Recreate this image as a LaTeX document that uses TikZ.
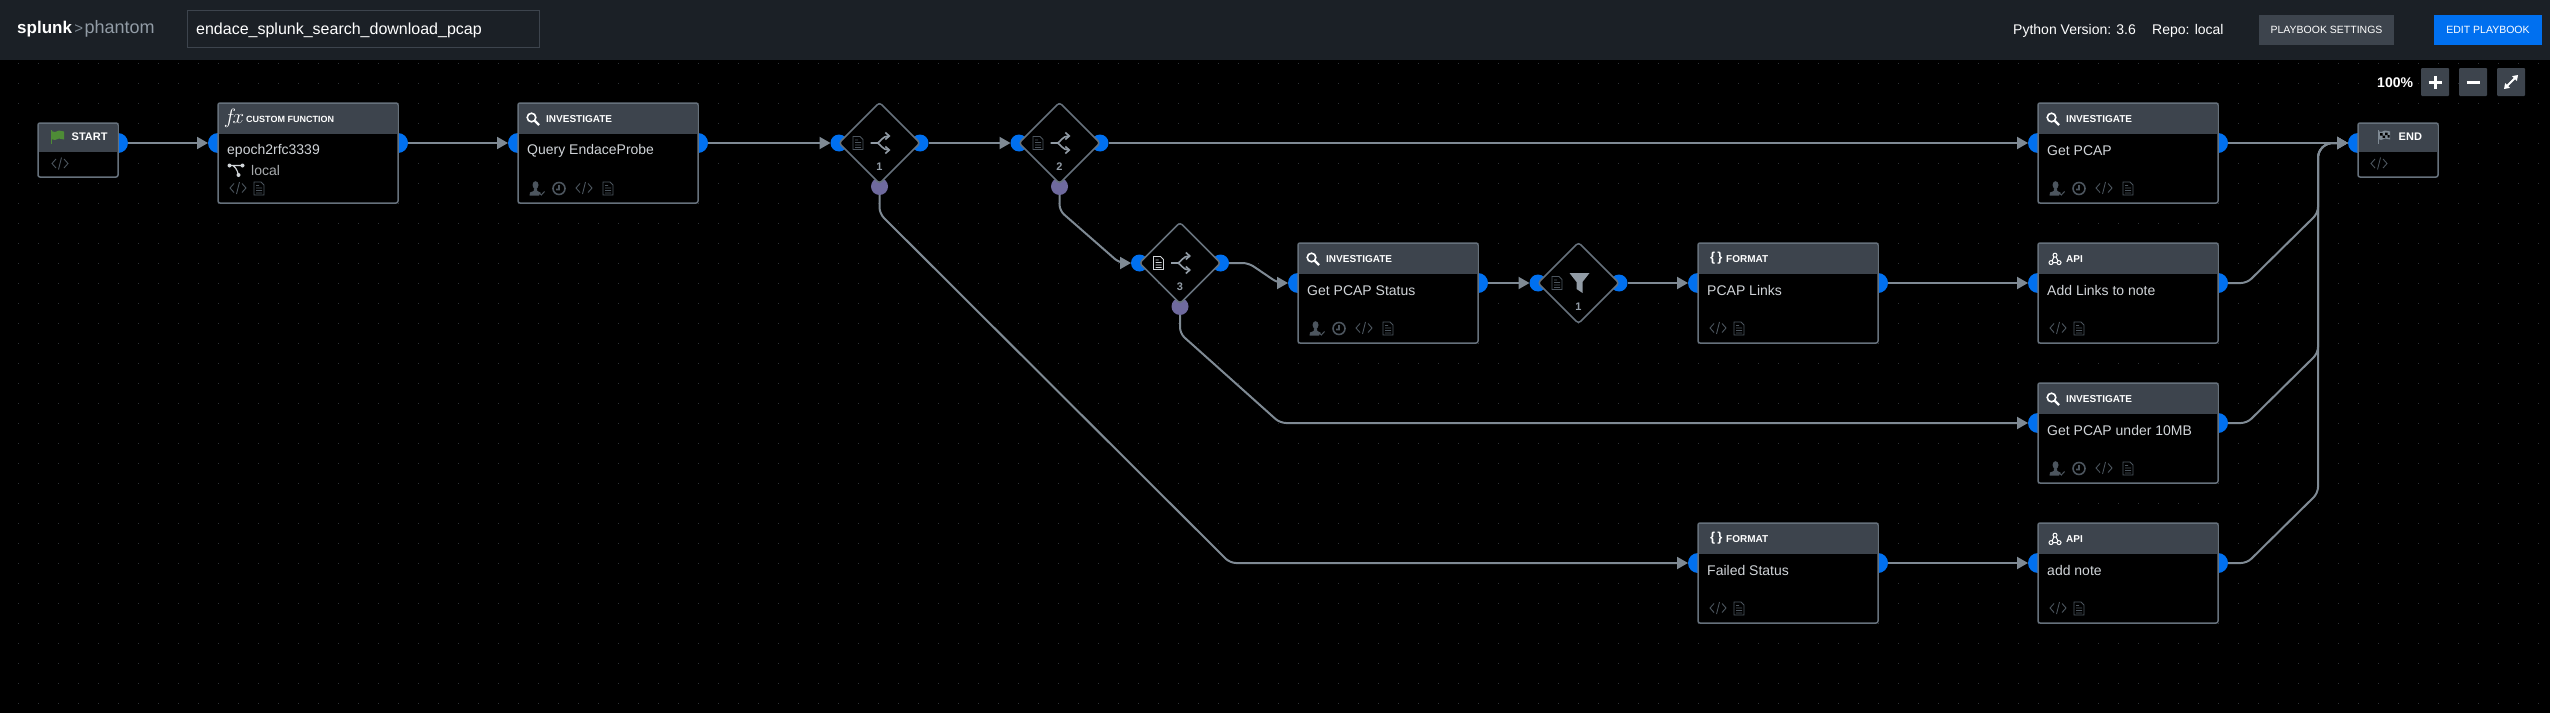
\documentclass[tikz,border=0pt]{standalone}
\usepackage{fontspec}
\setmainfont{Liberation Sans}
\usetikzlibrary{arrows.meta,positioning,shapes.geometric,backgrounds}

\definecolor{canvas}{HTML}{000000}
\definecolor{griddotc}{HTML}{2E3236}
\definecolor{topbarc}{HTML}{1B2026}
\definecolor{headc}{HTML}{3D444D}
\definecolor{edgec}{HTML}{66717C}
\definecolor{linkc}{HTML}{7F8A94}
\definecolor{portc}{HTML}{0070F0}
\definecolor{downc}{HTML}{6F6A9E}
\definecolor{iconc}{HTML}{4C555E}
\definecolor{brightc}{HTML}{929CA6}
\definecolor{titlec}{HTML}{D0D4D8}
\definecolor{flagc}{HTML}{4E8C36}

\tikzset{
  block/.style={draw=edgec, fill=black, line width=1.5pt, rounded corners=2pt, outer sep=0pt, inner sep=0pt, minimum width=180pt, minimum height=100pt},
  smallblock/.style={block, minimum width=80pt, minimum height=54pt},
  gate/.style={diamond, aspect=1, draw=edgec, fill=black, line width=1.5pt, rounded corners=3pt, outer sep=0pt, inner sep=0pt, minimum width=81pt, minimum height=81pt},
  port/.style={circle, fill=portc, inner sep=0pt, outer sep=0pt, minimum size=20pt},
  gateport/.style={port, minimum size=17pt},
  downport/.style={gateport, fill=downc},
  link/.style={draw=linkc, line width=2pt, -{Triangle[length=11pt,width=12pt]}},
  flowline/.style={link, rounded corners=6pt},
  griddot/.style={griddotc, line width=1.2pt, dash pattern=on 1.2pt off 18.8pt},
  headtext/.style={anchor=west, inner sep=0pt, text=white, font=\fontsize{10}{12}\selectfont\bfseries},
  bodytext/.style={anchor=west, inner sep=0pt, text=titlec, font=\fontsize{14}{16}\selectfont},
  bartext/.style={anchor=west, inner sep=0pt, text=white, font=\fontsize{14}{16}\selectfont},
  barbutton/.style={inner sep=0pt, minimum width=135pt, minimum height=30pt, fill=headc, text=white, font=\fontsize{10.5}{12}\selectfont},
  zoombutton/.style={inner sep=0pt, minimum width=28pt, minimum height=28pt, fill=headc, rounded corners=1pt},
  gatenum/.style={inner sep=0pt, text=brightc, font=\fontsize{11}{12}\selectfont\bfseries},
  docicon/.pic={\draw[line width=.9pt] (-5,-6.5) -- (2,-6.5) -- (5,-3.5) -- (5,6.5) -- (-5,6.5) -- cycle (-3,-3) -- (0,-3) (-3,-.5) -- (3,-.5) (-3,2) -- (3,2) (-3,4.5) -- (3,4.5);},
  codeicon/.pic={\draw[line width=.9pt] (-4,-4.5) -- (-8,0) -- (-4,4.5) (4,-4.5) -- (8,0) -- (4,4.5) (1.5,-6) -- (-1.5,6);},
  clockicon/.pic={\draw[line width=1.6pt] (0,0) circle (6pt) (0,-3.5) -- (0,1) -- (-3,1);},
  usericon/.pic={\fill (-1,-3.5) ellipse (3pt and 3.8pt) (-2.5,0) -- (.5,0) -- (.8,2.5) -- (4,4) -- (2.5,7) -- (-7,7) -- (-6.5,4) -- (-2.8,2.5) -- cycle;
    \draw[line width=1pt] (3,4.5) -- (4.8,6.5) -- (8,3);},
  lensicon/.pic={\draw[line width=1.6pt] (-1.5,-1.5) circle (4.3pt); \draw[line width=2.2pt] (1.8,1.8) -- (6,6);},
  flagicon/.pic={\fill (-7,-6) -- (-3,-5) -- (1,-6.5) -- (6,-5.5) -- (6,2.5) -- (1,1.5) -- (-3,3) -- (-7,2) -- cycle; \draw[line width=1pt] (-6.5,-7) -- (-6.5,7);},
  endflagicon/.pic={\fill (-6,-6) -- (-3,-5) -- (1,-6.5) -- (6,-5.5) -- (6,2.5) -- (1,1.5) -- (-3,3) -- (-6,2) -- cycle; \draw[line width=1pt] (-6,-7) -- (-6,7);
    \fill[black] (-4,-4) rectangle (-1.5,-1.5) (1,-4.5) rectangle (3.5,-2) (-1.5,-1.5) rectangle (1,.8) (3.5,-2) rectangle (5.5,.5);},
  spliticon/.pic={\draw[line width=1.6pt, -{Straight Barb[length=4pt,width=7pt]}] (-11,0) -- (-4,0) .. controls (-1,-1) and (1,-7) .. (9,-7);
    \draw[line width=1.6pt, -{Straight Barb[length=4pt,width=7pt]}] (-4,0) .. controls (-1,1) and (1,7) .. (9,7);},
  funnelicon/.pic={\fill (-10,-10) -- (10,-10) -- (3,-1) -- (3,10) -- (-3,6) -- (-3,-1) -- cycle;},
  apiicon/.pic={\draw[line width=1pt] (0,-3.8) circle (2pt) (-4,3.6) circle (2pt) (4,3.6) circle (2pt) (-1,-2) -- (-3,1.8) (1,-2) -- (3,1.8) (-2,3.6) -- (2,3.6);},
  forkicon/.pic={\fill (-6.5,-4.5) circle (2pt) (6.5,-4.5) circle (2pt) (2.5,5) circle (2pt); \draw[line width=1.2pt] (-6.5,-4.5) -- (6.5,-4.5) (-3,-4.5) .. controls (-1,-3) and (1,-1) .. (2.5,5);},
}

\begin{document}
\begin{tikzpicture}[x=1pt, y=-1pt]
  \useasboundingbox (0,0) rectangle (2550,712);

  % Top row
  \node[block] (fn) at (308,153) {};
  \node[smallblock, left=100pt of fn, yshift=3pt] (start) {};
  \node[block, right=120pt of fn] (qry) {};
  \node[gate] (d1) at (879.5,143) {};
  \node[gate, right=99pt of d1] (d2) {};
  \node[block] (pcap) at (2128,153) {};
  \node[smallblock, right=140pt of pcap, yshift=3pt] (end) {};

  % Second row
  \node[gate] (d3) at (1180,263) {};
  \node[block] (status) at (1388,293) {};
  \node[gate, right=60pt of status, yshift=10pt] (d4) {};
  \node[block, right=79pt of d4, yshift=-10pt] (links) {};
  \node[block, right=160pt of links] (addl) {};

  % Lower rows
  \node[block, below=40pt of addl] (under) {};
  \node[block, below=40pt of under] (note) {};
  \node[block, left=160pt of note] (failed) {};

  \begin{scope}[on background layer]
    \fill[canvas] (-3,-3) rectangle (2553,715);
    \foreach \r in {0,...,32}
      \draw[griddot] (18,{63.5+20*\r}) -- (2550,{63.5+20*\r});
    \fill[topbarc] (-3,-3) rectangle (2553,60);

    % Ports
    \foreach \b in {fn,qry,pcap,status,links,addl,under,failed,note} {
      \node[port] (\b-in) at ([yshift=-40pt]\b.north west) {};
      \node[port] (\b-out) at ([yshift=-40pt]\b.north east) {};
    }
    \node[port] (start-out) at ([yshift=-20pt]start.north east) {};
    \node[port] (end-in) at ([yshift=-20pt]end.north west) {};
    \foreach \d in {d1,d2,d3,d4} {
      \node[gateport] (\d-in) at (\d.west) {};
      \node[gateport] (\d-out) at (\d.east) {};
    }
    \foreach \d in {d1,d2,d3}
      \node[downport] (\d-down) at ([yshift=-3pt]\d.south) {};
  \end{scope}

  % Top bar
  \node[inner sep=0pt, anchor=west, text=white, font=\fontsize{17}{20}\selectfont\bfseries] (logoa) at (17,29) {splunk};
  \node[inner sep=0pt, anchor=west, text=linkc, font=\fontsize{15}{18}\selectfont, right=2pt of logoa] (logob) {>};
  \node[inner sep=0pt, anchor=west, text=brightc, font=\fontsize{18}{20}\selectfont, right=1pt of logob] (logoc) {phantom};
  \node[draw=headc, fill=topbarc, line width=1pt, inner sep=0pt, minimum width=352pt, minimum height=37pt] (namebox) at (363.5,29) {};
  \node[bartext, font=\fontsize{16}{18}\selectfont] (name) at (196,30) {endace\_splunk\_search\_download\_pcap};
  \node[bartext] (python) at (2013,31) {Python Version: 3.6};
  \node[bartext] (repo) at (2152,31) {Repo: local};
  \node[barbutton] (settings) at (2326.5,30) {PLAYBOOK SETTINGS};
  \node[barbutton, minimum width=108pt, fill=portc] (edit) at (2488,30) {EDIT PLAYBOOK};

  % Zoom controls
  \node[bartext, font=\fontsize{14}{16}\selectfont\bfseries] (percent) at (2377,83) {100\%};
  \node[zoombutton] (plus) at (2435,82) {};
  \node[zoombutton] (minus) at (2473,82) {};
  \node[zoombutton] (expand) at (2511,82) {};
  \draw[white, line width=3pt] ([xshift=-6.5pt]plus.center) -- ([xshift=6.5pt]plus.center);
  \draw[white, line width=3pt] ([yshift=-6.5pt]plus.center) -- ([yshift=6.5pt]plus.center);
  \draw[white, line width=3pt] ([xshift=-6.5pt]minus.center) -- ([xshift=6.5pt]minus.center);
  \draw[white, line width=2pt, {Triangle[length=5pt,width=6.5pt]}-{Triangle[length=5pt,width=6.5pt]}] ([shift={(-7,7)}]expand.center) -- ([shift={(7,-7)}]expand.center);

  % Block headers and titles
  \foreach \b/\head in {fn/{\fontsize{9}{12}\selectfont CUSTOM FUNCTION},qry/INVESTIGATE,pcap/INVESTIGATE,status/INVESTIGATE,links/FORMAT,addl/API,under/INVESTIGATE,failed/FORMAT,note/API} {
    \fill[headc] ([shift={(1,1)}]\b.north west) rectangle ([shift={(-1,31)}]\b.north east);
    \node[headtext] (\b-head) at ([shift={(28,16)}]\b.north west) {\head};
  }
  \foreach \b/\t in {fn/epoch2rfc3339,qry/Query EndaceProbe,pcap/Get PCAP,status/Get PCAP Status,links/PCAP Links,addl/Add Links to note,under/Get PCAP under 10MB,failed/Failed Status,note/add note}
    \node[bodytext] (\b-title) at ([shift={(9,47.5)}]\b.north west) {\t};

  % Start and end
  \foreach \b in {start,end}
    \fill[headc] ([shift={(1,1)}]\b.north west) rectangle ([shift={(-1,29)}]\b.north east);
  \node[headtext, font=\fontsize{11}{13}\selectfont\bfseries] (start-head) at ([shift={(33.5,14)}]start.north west) {START};
  \node[headtext, font=\fontsize{11}{13}\selectfont\bfseries] (end-head) at ([shift={(40.5,14)}]end.north west) {END};
  \pic[color=flagc] at ([shift={(20,14)}]start.north west) {flagicon};
  \pic[color=linkc] at ([shift={(26,14)}]end.north west) {endflagicon};
  \pic[color=iconc] at ([shift={(22,40.5)}]start.north west) {codeicon};
  \pic[color=iconc] at ([shift={(21,40.5)}]end.north west) {codeicon};

  % Custom function extras
  \node[font=\fontsize{20}{22}\selectfont, inner sep=0pt, text=white] (fn-fx) at ([shift={(16,15)}]fn.north west) {$f\!x$};
  \pic[color=titlec] at ([shift={(18,67)}]fn.north west) {forkicon};
  \node[bodytext, text=titlec!80!black] (fn-repo) at ([shift={(33,67.5)}]fn.north west) {local};

  % Block icons
  \foreach \b in {qry,pcap,status,under} {
    \pic[color=white] at ([shift={(15,16)}]\b.north west) {lensicon};
    \pic[color=iconc] at ([shift={(18.5,85.5)}]\b.north west) {usericon};
    \pic[color=iconc] at ([shift={(41,85.5)}]\b.north west) {clockicon};
    \pic[color=iconc] at ([shift={(66,85)}]\b.north west) {codeicon};
    \pic[color=iconc] at ([shift={(90,85.5)}]\b.north west) {docicon};
  }
  \foreach \b in {fn,links,addl,failed,note} {
    \pic[color=iconc] at ([shift={(20,85)}]\b.north west) {codeicon};
    \pic[color=iconc] at ([shift={(41,85.5)}]\b.north west) {docicon};
  }
  \foreach \b in {links,failed} {
    \node[headtext, font=\fontsize{13}{14}\selectfont\bfseries] (\b-brace) at ([shift={(12,15)}]\b.north west) {\{\,\}};
  }
  \foreach \b in {addl,note}
    \pic[color=white] at ([shift={(17,16)}]\b.north west) {apiicon};

  % Gate icons
  \foreach \d/\n in {d1/1,d2/2,d3/3} {
    \pic[color=brightc] at ([xshift=2pt]\d.center) {spliticon};
    \node[gatenum] (\d-num) at ([yshift=-24pt]\d.center) {\n};
  }
  \pic[color=iconc] at ([xshift=-21.5pt]d1.center) {docicon};
  \pic[color=iconc] at ([xshift=-21.5pt]d2.center) {docicon};
  \pic[color=titlec] at ([xshift=-21.5pt]d3.center) {docicon};
  \pic[color=iconc] at ([xshift=-21.5pt]d4.center) {docicon};
  \pic[color=brightc] at ([xshift=1pt]d4.center) {funnelicon};
  \node[gatenum] (d4-num) at ([yshift=-24pt]d4.center) {1};

  % Straight connectors
  \draw[link] (start-out) -- (fn-in);
  \draw[link] (fn-out) -- (qry-in);
  \draw[link] (qry-out) -- (d1-in);
  \draw[link] (d1-out) -- (d2-in);
  \draw[link] (d2-out) -- (pcap-in);
  \draw[link] (status-out) -- (d4-in);
  \draw[link] (d4-out) -- (links-in);
  \draw[link] (links-out) -- (addl-in);
  \draw[link] (failed-out) -- (note-in);
  \draw[link] (pcap-out) -- (end-in);

  % Branch connectors
  \draw[flowline] (d1-down.south) -- ([yshift=-27pt]d1-down.center) -- ([xshift=-468pt]failed-in.center) -- (failed-in);
  \draw[flowline] (d2-down.south) -- ([yshift=-24pt]d2-down.center) -- ([xshift=-20pt]d3-in.center) -- (d3-in);
  \draw[flowline] (d3-down.south) -- ([yshift=-27pt]d3-down.center) -- ([xshift=-758pt]under-in.center) -- (under-in);
  \draw[flowline] (d3-out) -- ([xshift=28pt]d3-out.center) -- ([xshift=-20pt]status-in.center) -- (status-in);

  % Into the end block
  \coordinate (bus) at ([xshift=-40pt]end-in.center);
  \foreach \b in {addl,under,note}
    \draw[flowline] (\b-out) -- ([xshift=29pt]\b-out.center) -- ([shift={(100,-70)}]\b-out.center) [rounded corners=15pt] -- (bus) -- (end-in);

\end{tikzpicture}
\end{document}
